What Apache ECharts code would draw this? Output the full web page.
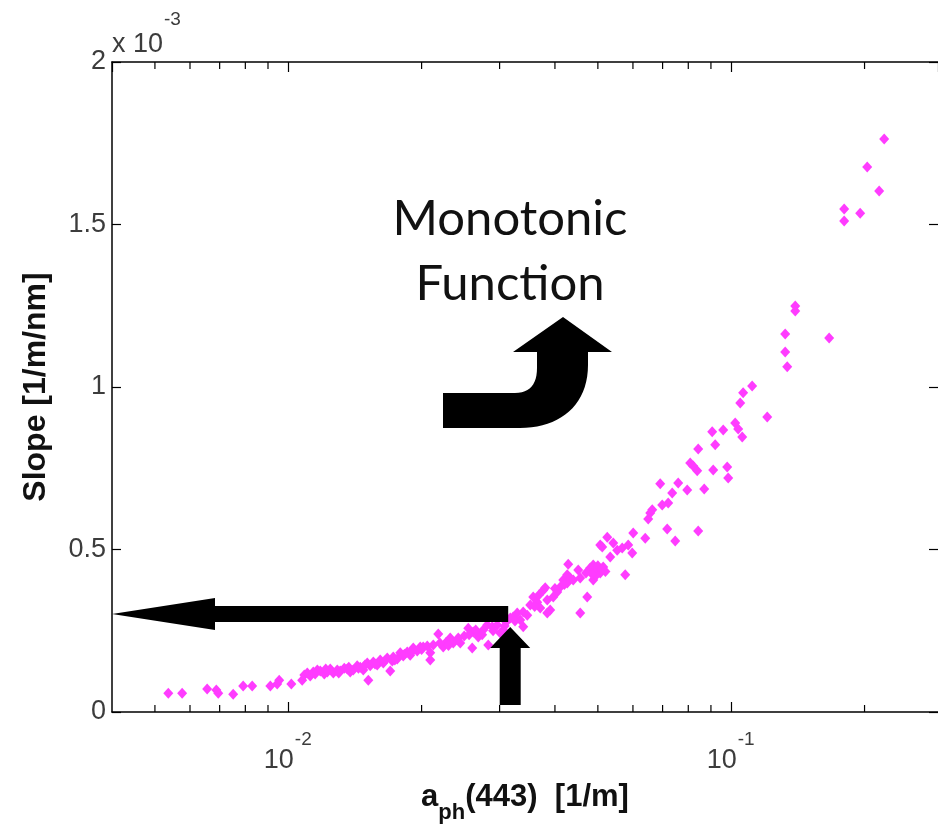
<!DOCTYPE html>
<html><head><meta charset="utf-8">
<script src="https://cdn.jsdelivr.net/npm/echarts@6/dist/echarts.min.js"></script>
<style>html,body{margin:0;padding:0;background:#fff}#c{width:938px;height:832px}</style>
</head><body><div id="c"></div>
<script>
// a_ph(443) [1/m]
const aph443 = [
0.00536,0.00576,0.00656,0.00688,0.00695,0.00751,0.00791,0.00829,0.00911,0.00944,
0.00954,0.01016,0.01075,0.01087,0.01104,0.01121,0.01139,0.01163,0.01181,0.01206,
0.01225,0.01244,0.01264,0.01290,0.01310,0.01338,0.01359,0.01380,0.01402,0.01431,
0.01454,0.01477,0.01508,0.01516,0.01531,0.01556,0.01588,0.01613,0.01639,0.01673,
0.01699,0.01717,0.01726,0.01762,0.01790,0.01818,0.01856,0.01885,0.01915,0.01955,
0.01986,0.02017,0.02060,0.02092,0.02092,0.02125,0.02181,0.02238,0.02273,0.02321,
0.02358,0.02407,0.02445,0.02496,0.02549,0.02602,0.02616,0.02671,0.02685,0.02755,
0.02813,0.02828,0.02887,0.02963,0.03010,0.03057,0.03105,0.03171,0.03220,0.03288,
0.03340,0.03392,0.03464,0.03392,0.03518,0.03573,0.03648,0.03706,0.03764,0.03803,
0.03843,0.03903,0.03843,0.03965,0.04048,0.04112,0.04176,0.04264,0.04286,0.04264,
0.04331,0.04399,0.04515,0.04562,0.04562,0.04731,0.04805,0.04881,0.04881,0.04983,
0.05062,0.05141,0.05062,0.05115,0.05250,0.05332,0.05416,0.05529,0.05675,0.05764,
0.05855,0.05978,0.06009,0.06396,0.06496,0.06564,0.06633,0.06914,0.06986,0.07207,
0.07170,0.07475,0.07359,0.07592,0.07956,0.08424,0.08081,0.08208,0.08380,0.08424,
0.08691,0.09059,0.09107,0.09202,0.09593,0.09794,0.09845,0.1021,0.1037,0.1059,
0.1048,0.1064,0.1115,0.1206,0.1324,0.1324,0.1338,0.1395,0.1395,0.1664,
0.1799,0.1799,0.1955,0.2028,0.2158,0.2215,
0.01150,0.01215,0.01300,0.01370,0.01440,0.01490,0.01570,0.01650,0.01740,0.01830,
0.01900,0.02000,0.02200,0.02300,0.02420,0.02560,0.02650,0.02740,0.02900,0.03080,
0.03250,0.03600,0.03680,0.04000,0.04200,0.04700,0.04950,0.05000,0.05200,0.04850,
0.05100
];
// Slope [1/m/nm], in units of 10^-3
const slopeE3 = [
0.058,0.058,0.071,0.068,0.058,0.055,0.080,0.080,0.080,0.086,
0.098,0.086,0.098,0.114,0.120,0.111,0.123,0.129,0.126,0.117,
0.123,0.132,0.120,0.129,0.126,0.135,0.132,0.123,0.129,0.142,
0.138,0.129,0.151,0.098,0.142,0.154,0.145,0.160,0.151,0.166,
0.126,0.157,0.169,0.163,0.182,0.172,0.185,0.175,0.197,0.188,
0.200,0.200,0.203,0.182,0.160,0.206,0.240,0.200,0.215,0.228,
0.212,0.222,0.212,0.234,0.258,0.197,0.246,0.243,0.231,0.252,
0.268,0.206,0.262,0.268,0.243,0.252,0.277,0.289,0.292,0.305,
0.283,0.308,0.298,0.262,0.329,0.354,0.338,0.320,0.375,0.382,
0.345,0.314,0.305,0.354,0.369,0.385,0.406,0.397,0.455,0.422,
0.412,0.406,0.437,0.412,0.305,0.354,0.443,0.452,0.406,0.437,
0.428,0.446,0.514,0.508,0.538,0.477,0.520,0.498,0.505,0.422,
0.514,0.489,0.551,0.535,0.594,0.612,0.622,0.702,0.637,0.643,
0.563,0.526,0.674,0.705,0.683,0.557,0.766,0.757,0.742,0.809,
0.686,0.862,0.745,0.822,0.868,0.754,0.720,0.889,0.871,0.846,
0.951,0.982,1.003,0.908,1.163,1.108,1.062,1.249,1.234,1.151,
1.548,1.511,1.535,1.677,1.603,1.763,
0.117,0.132,0.120,0.138,0.135,0.145,0.148,0.157,0.160,0.178,
0.185,0.192,0.212,0.205,0.228,0.238,0.252,0.238,0.250,0.265,
0.280,0.325,0.360,0.380,0.392,0.428,0.420,0.450,0.432,0.425,
0.440
];
const xMin = 0.004, xMax = 0.293;
const yMin = 0, yMax = 2, yStep = 0.5;
const minorTickVals = [0.005,0.006,0.007,0.008,0.009,0.02,0.03,0.04,0.05,0.06,0.07,0.08,0.09,0.2];
const arrowPoint = [0.0317, 0.3015];   // where the annotation arrows meet
const annotationLines = ['Monotonic', 'Function'];
const xTitle = ['a', 'ph', '(443)  [1/m]'];
const yTitle = 'Slope [1/m/nm]';
const yExponent = '-3';

const tickFont = "'Liberation Sans',Arial,sans-serif";
const titleFont = "'Liberation Sans',Arial,sans-serif";
const tickColor = '#3c3c3c';

const chart = echarts.init(document.getElementById('c'), null, {renderer: 'canvas'});
const pts = aph443.map((x, i) => [x, slopeE3[i]]);
const axLine = {show: true, onZero: false, lineStyle: {color: '#000', width: 1.5}};
const tickStyle = {color: '#000', width: 1.2};

const xLabRich = {
  b: {fontSize: 27, lineHeight: 25, fontFamily: tickFont, color: tickColor, width: 30, align: 'left'},
  e: {fontSize: 10, lineHeight: 16, width: 30},
  s: {fontSize: 19, lineHeight: 16, fontFamily: tickFont, color: tickColor, width: 19, align: 'left'},
  e2: {fontSize: 10, lineHeight: 25, width: 19}
};
const yNameRich = {
  b: {fontSize: 27, lineHeight: 30, fontFamily: tickFont, color: tickColor, width: 52, align: 'left'},
  e: {fontSize: 10, lineHeight: 20, width: 52},
  s: {fontSize: 19, lineHeight: 20, fontFamily: tickFont, color: tickColor, width: 20, align: 'left'},
  e2: {fontSize: 10, lineHeight: 30, width: 20}
};

chart.setOption({
  animation: false,
  backgroundColor: '#fff',
  grid: {left: 112, right: 0, top: 62, bottom: 120, containLabel: false},
  xAxis: [{
    type: 'log', logBase: 10, min: xMin, max: xMax, position: 'bottom',
    axisLine: axLine,
    axisTick: {show: true, inside: true, length: 10, lineStyle: tickStyle},
    splitLine: {show: false}, minorTick: {show: false},
    axisLabel: {
      show: true, margin: 20, showMinLabel: false, showMaxLabel: false,
      formatter: function (v) {
        const l = Math.log10(v), e = Math.round(l);
        if (Math.abs(l - e) > 1e-6) return '';
        return '{e| }{s|' + e + '}\n{b|10}{e2| }';
      },
      rich: xLabRich
    },
    name: '{a|' + xTitle[0] + '}{s|' + xTitle[1] + '}{a|' + xTitle[2] + '}', nameLocation: 'middle', nameGap: 70,
    nameTextStyle: {
      rich: {
        a: {fontSize: 31, fontWeight: 'bold', fontFamily: titleFont, color: '#111', lineHeight: 34, verticalAlign: 'top'},
        s: {fontSize: 22, fontWeight: 'bold', fontFamily: titleFont, color: '#111', lineHeight: 22, verticalAlign: 'top', padding: [20,0,0,0]}
      }
    }
  }, {
    type: 'log', logBase: 10, min: xMin, max: xMax, position: 'top',
    axisLine: axLine,
    axisTick: {show: true, inside: true, length: 10, lineStyle: tickStyle},
    axisLabel: {show: false}, splitLine: {show: false}
  }],
  yAxis: [{
    type: 'value', min: yMin, max: yMax, interval: yStep, position: 'left',
    axisLine: axLine,
    axisTick: {show: true, inside: true, length: 9, lineStyle: tickStyle},
    splitLine: {show: false},
    axisLabel: {margin: 6, fontSize: 27, fontFamily: tickFont, color: tickColor},
    name: '{e| }{s|' + yExponent + '}\n{b|x 10}{e2| }', nameLocation: 'end', nameGap: 2,
    nameTextStyle: {align: 'left', verticalAlign: 'bottom', rich: yNameRich}
  }, {
    type: 'value', min: yMin, max: yMax, interval: yStep, position: 'right',
    axisLine: {show: false},
    axisTick: {show: true, inside: true, length: 9, lineStyle: tickStyle},
    splitLine: {show: false}, axisLabel: {show: false}
  }, {
    type: 'value', min: yMin, max: yMax, position: 'left',
    axisLine: {show: false}, axisTick: {show: false}, axisLabel: {show: false}, splitLine: {show: false},
    name: yTitle, nameLocation: 'middle', nameGap: 60,
    nameTextStyle: {fontSize: 32, fontWeight: 'bold', fontFamily: titleFont, color: '#111'}
  }],
  series: [{
    type: 'scatter', xAxisIndex: 0, yAxisIndex: 0,
    data: pts, symbol: 'diamond', symbolSize: [10, 11],
    itemStyle: {color: '#ff3cff', opacity: 1}
  }, {
    type: 'custom', xAxisIndex: 0, yAxisIndex: 0, silent: true, clip: false,
    data: minorTickVals.map(v => [v, 0]),
    renderItem: function (params, api) {
      const x = api.value(0);
      const b = api.coord([x, yMin]);
      const t = api.coord([x, yMax]);
      return {type: 'group', children: [
        {type: 'line', shape: {x1: b[0], y1: b[1], x2: b[0], y2: b[1] - 7}, style: {stroke: '#000', lineWidth: 1.2}},
        {type: 'line', shape: {x1: t[0], y1: t[1], x2: t[0], y2: t[1] + 7}, style: {stroke: '#000', lineWidth: 1.2}}
      ]};
    }
  }]
});

// annotation arrows anchored on the data coordinates
const P = chart.convertToPixel({xAxisIndex: 0, yAxisIndex: 0}, arrowPoint);
const L = chart.convertToPixel({xAxisIndex: 0, yAxisIndex: 0}, [xMin, arrowPoint[1]]);
const B = chart.convertToPixel({xAxisIndex: 0, yAxisIndex: 0}, [arrowPoint[0], 0]);
const hx = L[0], hy = L[1];
const horiz = [[hx, hy], [hx + 103, hy - 16], [hx + 103, hy - 8], [P[0] - 2, hy - 8],
               [P[0] - 2, hy + 8], [hx + 103, hy + 8], [hx + 103, hy + 16]];
const vx = P[0], tipY = P[1] + 13, baseY = tipY + 21, botY = B[1] - 7;
const vert = [[vx, tipY], [vx + 20, baseY], [vx + 10.5, baseY], [vx + 10.5, botY],
              [vx - 10.5, botY], [vx - 10.5, baseY], [vx - 20, baseY]];

// curved "rising" arrow (decorative annotation)
function bez(p0, p1, p2, p3, n) {
  const out = [];
  for (let i = 1; i <= n; i++) {
    const t = i / n, u = 1 - t;
    out.push([u*u*u*p0[0] + 3*u*u*t*p1[0] + 3*u*t*t*p2[0] + t*t*t*p3[0],
              u*u*u*p0[1] + 3*u*u*t*p1[1] + 3*u*t*t*p2[1] + t*t*t*p3[1]]);
  }
  return out;
}
const curve = [[443, 393], [515, 393]]
  .concat(bez([515, 393], [530, 393], [537, 384], [537, 368], 12))
  .concat([[537, 352], [513, 352], [563, 317], [612, 352], [588, 352], [588, 365]])
  .concat(bez([588, 365], [588, 405], [560, 428], [520, 428], 20))
  .concat([[443, 428]]);

chart.setOption({
  graphic: [
    {type: 'polygon', shape: {points: horiz}, style: {fill: '#000'}, z: 100},
    {type: 'polygon', shape: {points: vert}, style: {fill: '#000'}, z: 100},
    {type: 'polygon', shape: {points: curve}, style: {fill: '#000'}, z: 100},
    {type: 'text', x: 510, y: 219, z: 100, style: {text: annotationLines[0], fontSize: 49, fontFamily: 'Lato, "Open Sans", sans-serif',
      fill: '#111', textAlign: 'center', textVerticalAlign: 'middle'}},
    {type: 'text', x: 510, y: 284, z: 100, style: {text: annotationLines[1], fontSize: 49, fontFamily: 'Lato, "Open Sans", sans-serif',
      fill: '#111', textAlign: 'center', textVerticalAlign: 'middle'}}
  ]
});
</script></body></html>
